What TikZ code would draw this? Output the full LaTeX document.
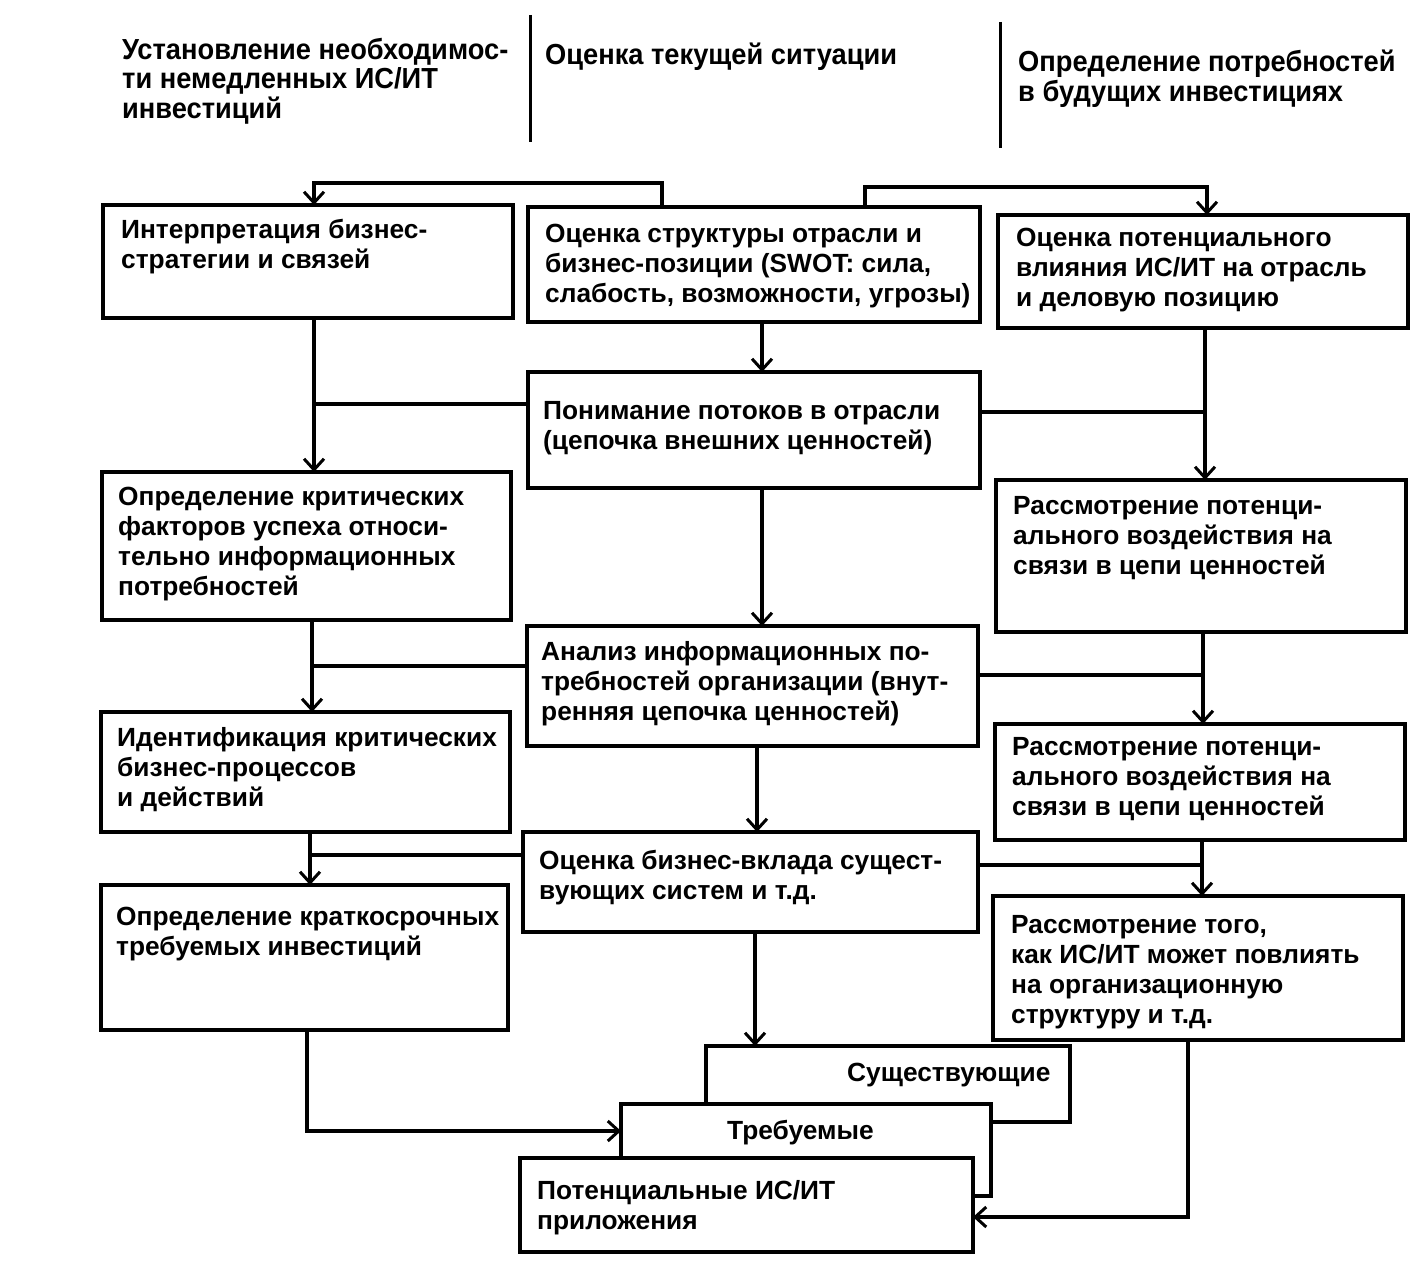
\documentclass[tikz,border=0pt]{standalone}
\usepackage{fontspec}
\setmainfont{Liberation Sans}
\newfontfamily\hdrfont{Liberation Sans}[FakeStretch=0.94]
\usetikzlibrary{arrows.meta,calc}
\begin{document}
\begin{tikzpicture}[x=1pt,y=-1pt,
  box/.style={draw, line width=3.2pt, rectangle, inner sep=0pt, outer sep=0pt, anchor=north west, fill=white},
  txt/.style={anchor=north west, inner sep=0pt, align=left, font=\fontsize{26.3}{30}\selectfont\bfseries},
  hdr/.style={anchor=north west, inner sep=0pt, align=left, font=\hdrfont\fontsize{29}{29.5}\selectfont\bfseries},
  ln/.style={line width=3.2pt},
  arr/.style={ln, -{Straight Barb[length=11pt,width=20pt,line width=3pt]}}
]
\useasboundingbox (0,0) rectangle (1415,1284);

% headers
\node[hdr] (h1) at (122,38) {Установление необходимос-\\ти немедленных ИС/ИТ\\инвестиций};
\node[hdr] (h2) at (545,43) {Оценка текущей ситуации};
\node[hdr] (h3) at (1018,50) {Определение потребностей\\в будущих инвестициях};
\draw[line width=3pt] (530,15) -- (530,142);
\draw[line width=3pt] (1000,22) -- (1000,148);

% boxes
\node[box, minimum width=410pt, minimum height=113pt] (A) at (103,205) {};
\node[box, minimum width=452pt, minimum height=115pt] (B) at (528,207) {};
\node[box, minimum width=410pt, minimum height=113pt] (C) at (998,215) {};
\node[box, minimum width=452pt, minimum height=116pt] (D) at (528,372) {};
\node[box, minimum width=409pt, minimum height=148pt] (E) at (102,472) {};
\node[box, minimum width=410pt, minimum height=152pt] (F) at (996,480) {};
\node[box, minimum width=451pt, minimum height=120pt] (G) at (527,626) {};
\node[box, minimum width=409pt, minimum height=120pt] (H) at (101,712) {};
\node[box, minimum width=410pt, minimum height=116pt] (I) at (995,724) {};
\node[box, minimum width=455pt, minimum height=100pt] (J) at (523,832) {};
\node[box, minimum width=407pt, minimum height=145pt] (K) at (101,885) {};
\node[box, minimum width=410pt, minimum height=144pt] (L) at (993,896) {};
\node[box, minimum width=364pt, minimum height=76pt] (S) at (706,1046) {};
\node[box, minimum width=370pt, minimum height=92pt] (T) at (621,1104) {};
\node[box, minimum width=453pt, minimum height=94pt] (P) at (520,1158) {};

% texts
\node[txt] (At) at (121,219) {Интерпретация бизнес-\\стратегии и связей};
\node[txt] (Bt) at (545,224) {Оценка структуры отрасли и\\бизнес-позиции (SWOT: сила,\\слабость, возможности, угрозы)};
\node[txt] (Ct) at (1016,228) {Оценка потенциального\\влияния ИС/ИТ на отрасль\\и деловую позицию};
\node[txt] (Dt) at (543,401) {Понимание потоков в отрасли\\(цепочка внешних ценностей)};
\node[txt] (Et) at (118,487) {Определение критических\\факторов успеха относи-\\тельно информационных\\потребностей};
\node[txt] (Ft) at (1013,496) {Рассмотрение потенци-\\ального воздействия на\\связи в цепи ценностей};
\node[txt] (Gt) at (541,641) {Анализ информационных по-\\требностей организации (внут-\\ренняя цепочка ценностей)};
\node[txt] (Ht) at (117,727) {Идентификация критических\\бизнес-процессов\\и действий};
\node[txt] (It) at (1012,737) {Рассмотрение потенци-\\ального воздействия на\\связи в цепи ценностей};
\node[txt] (Jt) at (539,850) {Оценка бизнес-вклада сущест-\\вующих систем и т.д.};
\node[txt] (Kt) at (116,907) {Определение краткосрочных\\требуемых инвестиций};
\node[txt] (Lt) at (1011,915) {Рассмотрение того,\\как ИС/ИТ может повлиять\\на организационную\\структуру и т.д.};
\node[txt] (St) at (847,1063) {Существующие};
\node[txt] (Tt) at (727,1120) {Требуемые};
\node[txt] (Pt) at (537,1180) {Потенциальные ИС/ИТ\\приложения};

% connectors
\draw[arr] ([xshift=134]B.north west) |- ([xshift=211,yshift=22]A.north west) -- ([xshift=211]A.north west);
\draw[arr] ([xshift=337]B.north west) |- ([xshift=209,yshift=28]C.north west) -- ([xshift=209]C.north west);
\draw[arr] ([xshift=234]B.south west) coordinate (b1) -- (b1 |- D.north);

\draw[arr] ([xshift=211]A.south west) coordinate (a1) -- (a1 |- E.north);
\coordinate (d1) at ([yshift=26]D.west);
\draw[ln] (d1) -- (d1 -| a1);
\draw[arr] ([xshift=207]C.south west) coordinate (c1) -- (c1 |- F.north);
\coordinate (d2) at ([yshift=18]D.east);
\draw[ln] (d2) -- (d2 -| c1);

\draw[arr] ([xshift=234]D.south west) coordinate (d3) -- (d3 |- G.north);
\draw[arr] ([xshift=210]E.south west) coordinate (e1) -- (e1 |- H.north);
\coordinate (g1) at ([yshift=20]G.west);
\draw[ln] (g1) -- (g1 -| e1);
\draw[arr] ([xshift=207]F.south west) coordinate (f1) -- (f1 |- I.north);
\coordinate (g2) at ([yshift=11]G.east);
\draw[ln] (g2) -- (g2 -| f1);

\draw[arr] ([xshift=230]G.south west) coordinate (g3) -- (g3 |- J.north);
\draw[arr] ([xshift=209]H.south west) coordinate (h4) -- (h4 |- K.north);
\coordinate (j1) at ([yshift=27]J.west);
\draw[ln] (j1) -- (j1 -| h4);
\draw[arr] ([xshift=207]I.south west) coordinate (i1) -- (i1 |- L.north);
\coordinate (j2) at ([yshift=17]J.east);
\draw[ln] (j2) -- (j2 -| i1);

\draw[arr] ([xshift=232]J.south west) coordinate (j3) -- (j3 |- S.north);
\coordinate (t1) at ([yshift=19]T.west);
\draw[arr] ([xshift=206]K.south west) |- (t1);
\coordinate (p1) at ([yshift=-12]P.east);
\draw[arr] ([xshift=195]L.south west) |- (p1);
\end{tikzpicture}
\end{document}
